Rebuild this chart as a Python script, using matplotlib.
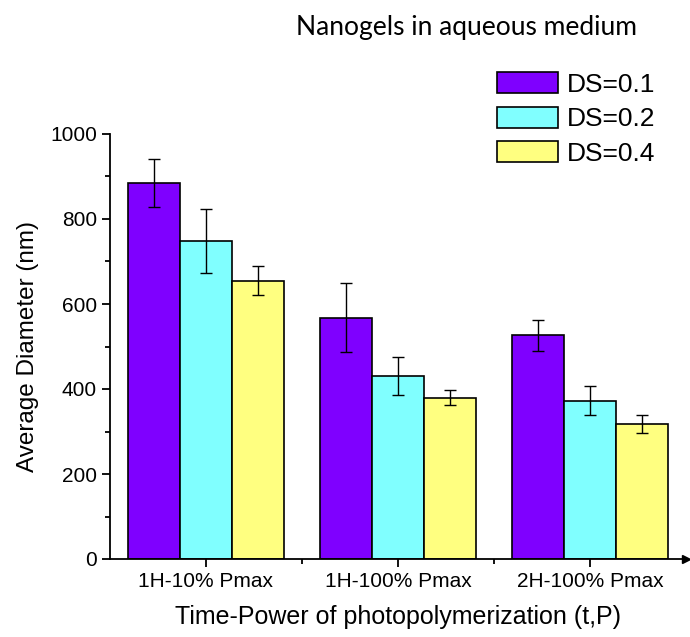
import matplotlib.pyplot as plt
import numpy as np
from matplotlib.ticker import MultipleLocator, FixedLocator

# data
groups = ['1H-10% Pmax', '1H-100% Pmax', '2H-100% Pmax']
series = ['DS=0.1', 'DS=0.2', 'DS=0.4']
ds01 = [885, 568, 526]
ds02 = [749, 431, 372]
ds04 = [655, 380, 317]
err01 = [57, 82, 37]
err02 = [75, 44, 34]
err04 = [34, 18, 21]
colors = ['#7F00FF', '#80FFFF', '#FFFF80']

plt.rcParams['font.family'] = ['Liberation Sans', 'DejaVu Sans']

fig = plt.figure(figsize=(6.9, 6.37), dpi=100)
ax = fig.add_axes([110 / 690, 78 / 637, 576 / 690, 425 / 637])

x = np.arange(1, len(groups) + 1)
w = 0.27
vals = [ds01, ds02, ds04]
errs = [err01, err02, err04]
for i in range(3):
    ax.bar(x + (i - 1) * w, vals[i], w, color=colors[i], edgecolor='black',
           linewidth=1.2, label=series[i], zorder=2)
    ax.errorbar(x + (i - 1) * w, vals[i], yerr=errs[i], fmt='none',
                ecolor='black', elinewidth=1.0, capsize=4, capthick=1.0, zorder=3)

ax.set_xlim(0.5, 3.5)
ax.set_ylim(0, 1000)
ax.spines['top'].set_visible(False)
ax.spines['right'].set_visible(False)
for s in ['left', 'bottom']:
    ax.spines[s].set_linewidth(1.3)
ax.plot(1, 0, '>', color='black', markersize=6, transform=ax.transAxes, clip_on=False)

ax.yaxis.set_major_locator(MultipleLocator(200))
ax.yaxis.set_minor_locator(MultipleLocator(100))
ax.set_xticks(x)
ax.set_xticklabels(groups)
ax.xaxis.set_minor_locator(FixedLocator([1.5, 2.5]))
ax.tick_params(which='major', direction='out', length=6, width=1.3, labelsize=15)
ax.tick_params(which='minor', direction='out', length=3.5, width=1.3)

ax.set_ylabel('Average Diameter (nm)', fontsize=17.5, labelpad=8)
ax.set_xlabel('Time-Power of photopolymerization (t,P)', fontsize=18, labelpad=10)

fig.text(466 / 690, 1 - 28 / 637, 'Nanogels in aqueous medium', ha='center', va='center',
         fontsize=19, family='Lato')

ax.legend(loc='upper left', bbox_to_anchor=(497 / 690, 1 - 72 / 637),
          bbox_transform=fig.transFigure, frameon=False, fontsize=19,
          handlelength=2.3, handleheight=0.85, labelspacing=0.38, handletextpad=0.35,
          borderaxespad=0, borderpad=0)

fig.savefig('out.png', dpi=100)
